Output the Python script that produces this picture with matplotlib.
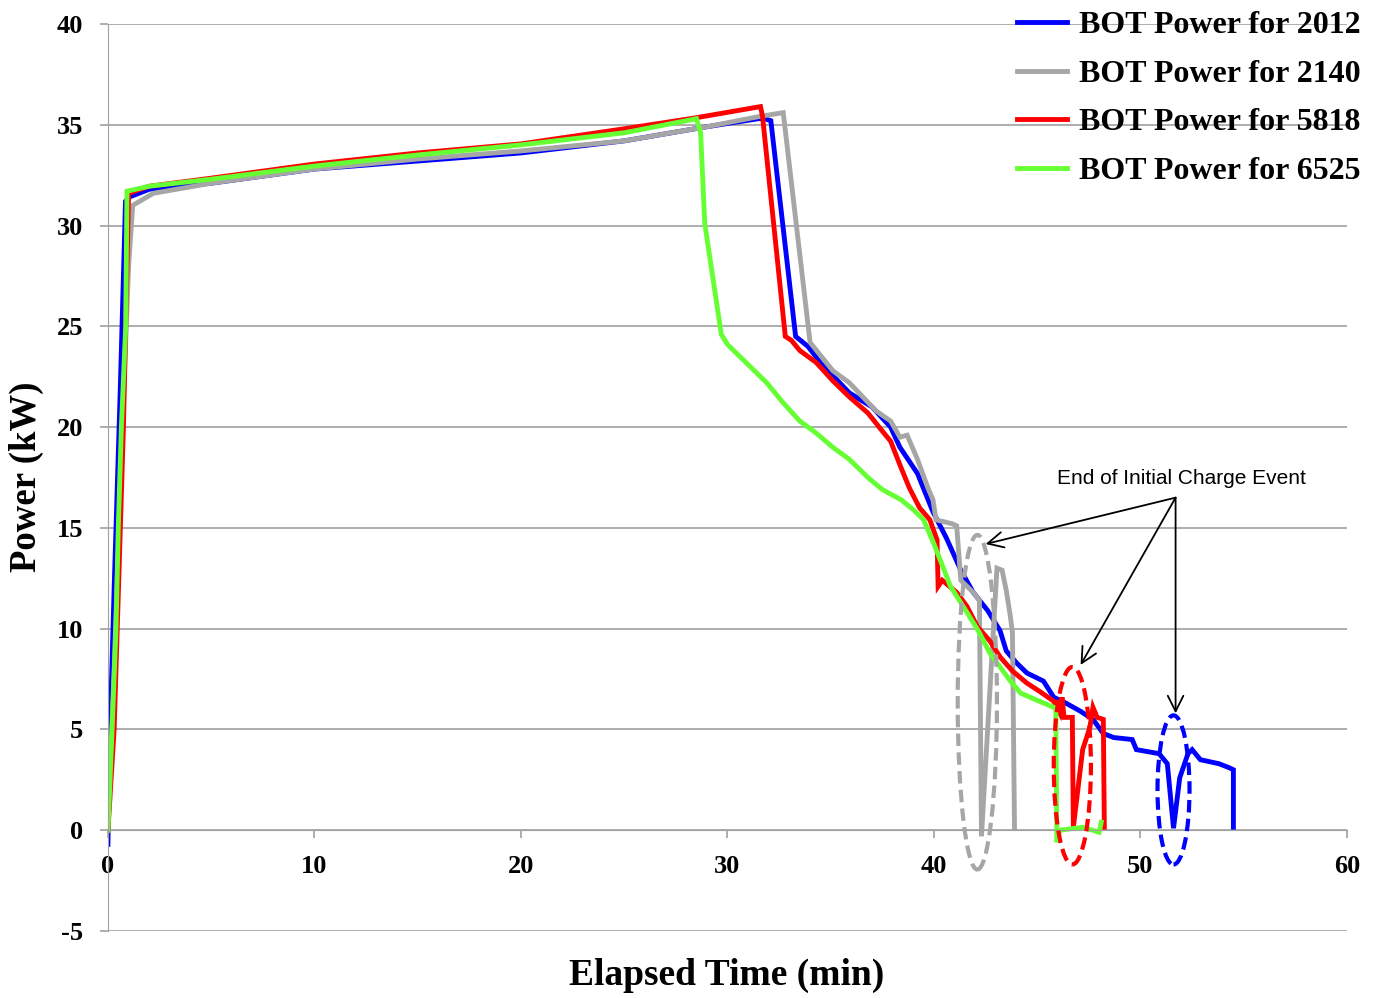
import numpy as np
import matplotlib
matplotlib.use('Agg')
import matplotlib.pyplot as plt
from matplotlib.patches import Ellipse

plt.rcParams['axes.unicode_minus'] = False

# BOT power traces (time in min, power in kW)
t_2012 = [0.0, 0.05, 0.3, 0.6, 0.85, 1.0, 2.0, 5.0, 10.0, 15.0, 20.0, 25.0, 29.0, 31.5, 31.8,
          32.1, 33.3, 33.9, 34.5, 35.9, 37.0, 37.9, 38.35, 39.2, 39.95, 40.6, 41.3, 41.9,
          42.6, 43.2, 43.5, 44.0, 44.5, 45.3, 45.8, 46.4, 47.1, 47.7, 48.2, 48.7, 49.6,
          49.8, 50.9, 51.3, 51.6, 51.9, 52.3, 52.5, 52.9, 53.8, 54.3, 54.5, 54.5]
p_2012 = [-0.7, 3.0, 12.0, 22.0, 31.2, 31.4, 31.8, 32.1, 32.8, 33.2, 33.6, 34.2, 34.9, 35.3, 35.3,
          35.2, 24.5, 24.0, 23.2, 21.7, 21.0, 20.0, 19.0, 17.7, 15.8, 14.5, 12.9, 11.8,
          10.9, 9.9, 8.9, 8.3, 7.8, 7.4, 6.6, 6.3, 5.9, 5.5, 4.8, 4.6, 4.5,
          4.0, 3.8, 3.3, 0.1, 2.6, 3.8, 4.0, 3.5, 3.3, 3.1, 3.0, 0.15]

t_2140 = [0.0, 0.3, 0.7, 1.0, 1.2, 2.2, 5.0, 10.0, 15.0, 20.0, 25.0, 29.0, 31.5, 32.7,
          34.0, 35.1, 35.9, 37.2, 37.9, 38.35, 38.7, 39.2, 39.7, 39.95, 40.1, 40.9, 41.1,
          41.3, 41.6, 41.9, 42.2, 42.3, 43.05, 43.3, 43.5, 43.7, 43.8, 43.9]
p_2140 = [0.0, 8.0, 20.0, 28.0, 31.0, 31.6, 32.1, 32.8, 33.3, 33.7, 34.2, 34.9, 35.4, 35.6,
          24.2, 22.8, 22.2, 20.8, 20.3, 19.5, 19.6, 18.4, 17.0, 16.4, 15.4, 15.2, 15.1,
          12.4, 12.1, 11.8, 11.4, -0.3, 13.0, 12.9, 11.9, 10.6, 9.8, 0.1]

t_5818 = [0.0, 0.3, 0.75, 1.0, 2.0, 5.0, 10.0, 15.0, 20.0, 25.0, 28.5, 31.6, 31.7,
          32.8, 33.1, 33.5, 34.3, 35.1, 35.9, 36.8, 37.5, 37.9, 38.4, 38.8, 39.3, 39.8,
          40.15, 40.2, 40.4, 41.1, 41.6, 42.1, 42.7, 43.2, 43.8, 44.5, 45.1, 45.8, 46.1,
          46.2, 46.3, 46.7, 46.75, 47.2, 47.55, 47.7, 47.9, 48.2, 48.25]
p_5818 = [0.0, 5.0, 20.0, 31.6, 31.95, 32.35, 33.05, 33.6, 34.05, 34.8, 35.35, 35.9, 35.4,
          24.5, 24.3, 23.8, 23.2, 22.3, 21.5, 20.7, 19.8, 19.3, 18.0, 17.0, 16.0, 15.4,
          14.4, 12.1, 12.4, 11.8, 11.1, 10.1, 9.4, 8.6, 7.9, 7.3, 6.9, 6.4, 5.8,
          6.6, 5.6, 5.6, 0.15, 4.0, 5.1, 6.1, 5.6, 5.5, 0.15]

t_6525 = [0.0, 0.2, 0.39, 0.5, 0.65, 0.86, 0.92, 2.0, 5.0, 10.0, 15.0, 20.0, 25.0, 28.5,
          28.7, 28.9, 29.6, 29.7, 30.0, 30.3, 31.1, 31.9, 32.7, 33.5, 34.3, 35.1, 35.9,
          36.8, 37.5, 38.4, 39.0, 39.5, 40.0, 40.8, 41.6, 42.2, 42.7, 43.2, 43.7, 44.2,
          45.1, 45.8, 45.9, 45.95, 46.1, 47.2, 48.0, 48.1]
p_6525 = [0.0, 5.0, 10.0, 15.0, 20.0, 25.0, 31.7, 31.95, 32.3, 32.95, 33.5, 34.0, 34.6, 35.3,
          34.6, 30.1, 25.3, 24.6, 24.1, 23.8, 23.0, 22.2, 21.2, 20.3, 19.7, 19.0, 18.4,
          17.5, 16.9, 16.4, 15.9, 15.4, 14.2, 12.1, 10.8, 9.8, 8.8, 8.1, 7.4, 6.8,
          6.4, 6.1, 6.0, -0.6, 0.0, 0.15, -0.1, 0.4]

series = [('BOT Power for 2012', t_2012, p_2012, '#0000ff'),
          ('BOT Power for 2140', t_2140, p_2140, '#a6a6a6'),
          ('BOT Power for 5818', t_5818, p_5818, '#ff0000'),
          ('BOT Power for 6525', t_6525, p_6525, '#66ff33')]

# ellipses marking the end of the initial charge event: centre x, centre y, width, height
ell_x = [42.1, 46.7, 51.6]
ell_y = [6.35, 3.2, 2.0]
ell_w = [1.9, 1.8, 1.55]
ell_h = [16.6, 9.8, 7.4]
ell_c = ['#a6a6a6', '#ff0000', '#0000ff']
arrow_to = [(42.5, 14.2), (47.1, 8.2), (51.7, 5.8)]

serif = 'Liberation Serif'

fig = plt.figure(figsize=(13.77, 9.98), dpi=100)
ax = fig.add_axes([0.0784, 0.0671, 0.8998, 0.9089])

for label, t, p, c in series:
    ax.plot(t, p, color=c, lw=3.5, label=label, solid_joinstyle='miter')

for x, y, w, h, c in zip(ell_x, ell_y, ell_w, ell_h, ell_c):
    ax.add_patch(Ellipse((x, y), w, h, fill=False, edgecolor=c, lw=3,
                         linestyle=(0, (3, 1.5)), zorder=5))

ax.text(52.0, 17.45, 'End of Initial Charge Event', ha='center', va='center',
        fontsize=15, family='Liberation Sans')
for xy in arrow_to:
    ax.annotate('', xy=xy, xytext=(51.7, 16.5),
                arrowprops=dict(arrowstyle='->', lw=1.3, color='black',
                                mutation_scale=28, shrinkA=0, shrinkB=0))

ax.set_xlim(0, 60)
ax.set_ylim(-5, 40)
ax.set_xticks(np.arange(0, 61, 10))
ax.set_yticks(np.arange(-5, 41, 5))
ax.yaxis.grid(True, color='#a0a0a0', lw=1.2)
ax.set_axisbelow(True)

for s in ['top', 'right']:
    ax.spines[s].set_visible(False)
ax.spines['left'].set_color('#a0a0a0')
ax.spines['bottom'].set_color('#a0a0a0')
ax.spines['bottom'].set_position(('data', 0))
ax.tick_params(axis='both', colors='#a0a0a0', length=6, width=1.2, pad=12,
               labelcolor='black')

for lab in ax.get_xticklabels() + ax.get_yticklabels():
    lab.set_family(serif)
    lab.set_fontweight('bold')
    lab.set_fontsize(19)

fig.text(0.528, 0.023, 'Elapsed Time (min)', ha='center', va='center',
         family=serif, fontweight='bold', fontsize=27)
fig.text(0.019, 0.522, 'Power (kW)', ha='center', va='center', rotation=90,
         family=serif, fontweight='bold', fontsize=26.5)

leg = ax.legend(loc='upper right', bbox_to_anchor=(1.0, 1.005),
                bbox_transform=fig.transFigure, frameon=False, borderpad=0,
                handlelength=1.55, handletextpad=0.4, labelspacing=0.6,
                prop={'family': serif, 'weight': 'bold', 'size': 23})

plt.savefig('out.png', dpi=100)
